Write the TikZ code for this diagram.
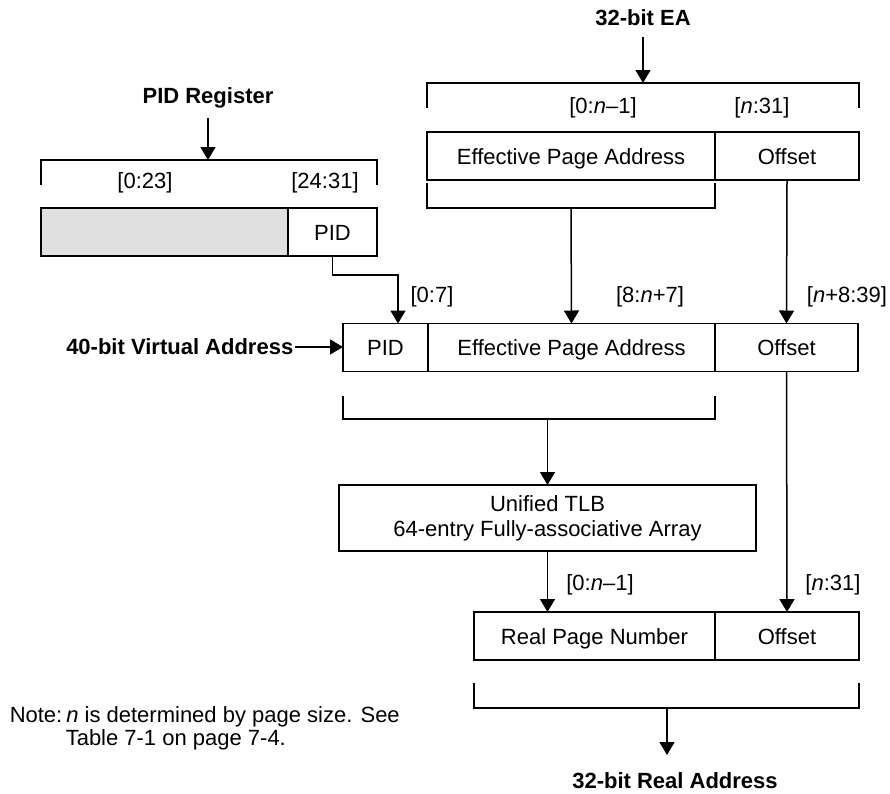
\documentclass[tikz,border=0pt]{standalone}
\usepackage{fontspec}
\setmainfont{Liberation Sans}
\usetikzlibrary{arrows.meta,positioning}
\definecolor{regfill}{RGB}{224,224,224}

\begin{document}
\begin{tikzpicture}[x=1pt, y=-1pt, line width=1.5pt,
    font=\fontsize{22}{25}\selectfont,
    field/.style={draw, minimum height=48pt, inner sep=0pt, outer sep=0pt,
      text height=16pt, text depth=0pt},
    unit/.style={draw, inner sep=0pt, outer sep=0pt, align=center},
    title/.style={font=\fontsize{22}{25}\selectfont\bfseries, inner sep=2pt},
    bits/.style={inner sep=1pt},
    arr/.style={-{Triangle[length=13pt,width=15pt]}}]

    \useasboundingbox (0,0) rectangle (890,793);

    % 32-bit EA
    \node[title, anchor=base] (ea) at (643,25) {32-bit EA};
    \node[field, minimum width=288pt] (eaepa) at (571,156) {Effective Page Address};
    \node[field, minimum width=144pt, right=0pt of eaepa] (eaoff) {Offset};
    \draw (427,108) -- (427,83) -- (859,83) -- (859,108);
    \coordinate (eatop) at (643,83);
    \draw[arr] ([yshift=-12pt]ea.base) -- (eatop);
    \node[bits] (eahi) at (603,108) {[0:\textit{n}–1]};
    \node[bits] (ealo) at (762,108) {[\textit{n}:31]};
    \draw (427,183) -- (427,208) -- (715,208) -- (715,183);
    \coordinate (eabr) at (571,208);

    % PID register
    \node[title, anchor=base] (pidreg) at (208,103) {PID Register};
    \node[field, fill=regfill, minimum width=247pt] (pidrest) at (164.5,232) {};
    \node[field, minimum width=89pt, right=0pt of pidrest] (pid) {PID};
    \draw (41,185) -- (41,160) -- (377,160) -- (377,185);
    \coordinate (pidtop) at (208,160);
    \draw[arr] ([yshift=-15pt]pidreg.base) -- (pidtop);
    \node[bits] (pidhi) at (145,183) {[0:23]};
    \node[bits] (pidlo) at (325,183) {[24:31]};

    % 40-bit virtual address
    \node[field, minimum width=85pt] (vapid) at (385.5,347.5) {PID};
    \node[field, minimum width=287pt, right=0pt of vapid] (vaepa) {Effective Page Address};
    \node[field, minimum width=143pt, right=0pt of vaepa] (vaoff) {Offset};
    \node[title, anchor=east, inner sep=1pt] (va) at (295,347) {40-bit Virtual Address};
    \draw[arr] (va.east) -- (va.east -| vapid.west);
    \draw[arr] (pid.south) |- (398,275) -- ([xshift=12.5pt]vapid.north);
    \draw[arr] (eabr) -- (vaepa.north);
    \draw[arr] (eaoff.south) -- (vaoff.north);
    \node[bits] (vahi) at (432,297) {[0:7]};
    \node[bits] (vamid) at (650,297) {[8:\textit{n}+7]};
    \node[bits] (valo) at (847,297) {[\textit{n}+8:39]};
    \draw (343,396) -- (343,419) -- (715,419) -- (715,396);
    \coordinate (vabr) at (547.5,419);

    % TLB
    \node[unit, minimum width=417pt, minimum height=66pt] (tlb) at (547.5,518)
      {Unified TLB\\64-entry Fully-associative Array};
    \draw[arr] (vabr) -- (tlb.north);

    % 32-bit real address
    \node[field, minimum width=241pt] (rpn) at (594.5,636) {Real Page Number};
    \node[field, minimum width=144pt, right=0pt of rpn] (rpoff) {Offset};
    \draw[arr] (tlb.south) -- (tlb.south |- rpn.north);
    \draw[arr] (vaoff.south) -- (rpoff.north);
    \node[bits] (rahi) at (600,585) {[0:\textit{n}–1]};
    \node[bits] (ralo) at (833,585) {[\textit{n}:31]};
    \draw (474,683) -- (474,708) -- (859,708) -- (859,683);
    \coordinate (rabr) at (667,708);
    \node[title, anchor=base] (ra) at (675,788) {32-bit Real Address};
    \draw[arr] (rabr) -- ([yshift=33pt]ra.base -| rabr);

    \node[anchor=base west, inner sep=0pt] (note) at (9,722)
      {Note:\hspace{4pt}\textit{n} is determined by page size. See};
    \node[anchor=base west, inner sep=0pt] (note2) at (65,745) {Table 7-1 on page 7-4.};
\end{tikzpicture}
\end{document}
